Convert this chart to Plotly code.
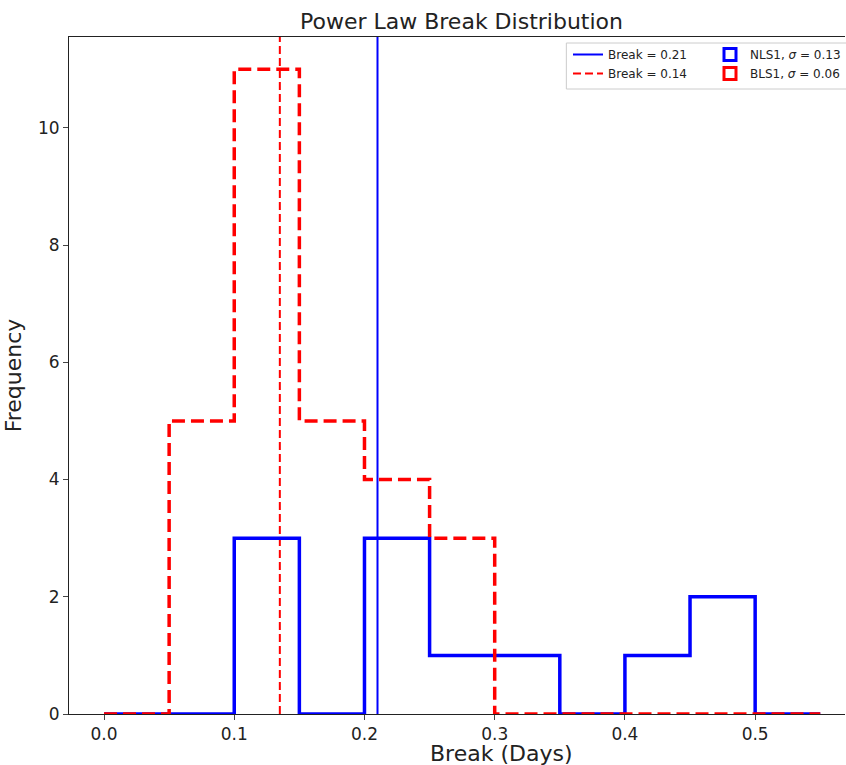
import plotly.graph_objects as go

# ---- data ----
bin_edges = [0.0, 0.05, 0.10, 0.15, 0.20, 0.25, 0.30, 0.35, 0.40, 0.45, 0.50, 0.55]
nls1_counts = [0, 0, 3, 0, 3, 1, 1, 0, 1, 2, 0]
bls1_counts = [0, 5, 11, 5, 4, 3, 0, 0, 0, 0, 0]
nls1_break = 0.21
bls1_break = 0.135
nls1_label = "NLS1, <i>σ</i> = 0.13"
bls1_label = "BLS1, <i>σ</i> = 0.06"
break_labels = ["Break = 0.21", "Break = 0.14"]
x_ticks = [0.0, 0.1, 0.2, 0.3, 0.4, 0.5]
y_ticks = [0, 2, 4, 6, 8, 10]

X_RANGE = [-0.0269, 0.569]
Y_RANGE = [0, 11.55]

BLUE = "#0000ff"
RED = "#ff0000"
FONT = "DejaVu Sans"
TXT = "#222"


def step_xy(edges, counts):
    xs = [edges[0]] + list(edges)
    ys = [0] + list(counts) + [0]
    return xs, ys


fig = go.Figure()

# vertical break lines (legend 1)
fig.add_trace(go.Scatter(x=[nls1_break, nls1_break], y=Y_RANGE, mode="lines",
                         line=dict(color=BLUE, width=2), name=break_labels[0],
                         legend="legend"))
fig.add_trace(go.Scatter(x=[bls1_break, bls1_break], y=Y_RANGE, mode="lines",
                         line=dict(color=RED, width=2, dash="8px,4px"), name=break_labels[1],
                         legend="legend"))

# step histograms
bx, by = step_xy(bin_edges, nls1_counts)
fig.add_trace(go.Scatter(x=bx, y=by, mode="lines", line=dict(color=BLUE, width=3.5, shape="hv"),
                         showlegend=False))
rx, ry = step_xy(bin_edges, bls1_counts)
fig.add_trace(go.Scatter(x=rx, y=ry, mode="lines",
                         line=dict(color=RED, width=3.5, shape="hv", dash="13px,6px"),
                         showlegend=False))

# legend-only patch entries (legend 2)
fig.add_trace(go.Bar(x=[None], y=[None], name=nls1_label, legend="legend2",
                     marker=dict(color="rgba(0,0,0,0)", line=dict(color=BLUE, width=3))))
fig.add_trace(go.Bar(x=[None], y=[None], name=bls1_label, legend="legend2",
                     marker=dict(color="rgba(0,0,0,0)", line=dict(color=RED, width=3))))

axis_common = dict(
    showgrid=False, zeroline=False, showline=True, linecolor=TXT, linewidth=1,
    ticks="outside", ticklen=5, tickcolor="#444", tickwidth=1,
    tickfont=dict(family=FONT, size=17, color=TXT),
)

legend_common = dict(xanchor="left", yanchor="top", bgcolor="rgba(0,0,0,0)", borderwidth=0,
                     font=dict(family=FONT, size=12, color=TXT), traceorder="normal")

fig.update_layout(
    width=846, height=765,
    margin=dict(l=69, r=0, t=37, b=51),
    paper_bgcolor="white", plot_bgcolor="white",
    font=dict(family=FONT, color=TXT),
    title=dict(text="Power Law Break Distribution", x=(462 - 69) / 777, xref="paper",
               xanchor="center", y=1 - 21 / 765, yanchor="middle", yref="container",
               font=dict(family=FONT, size=22, color=TXT)),
    xaxis=dict(range=X_RANGE, tickvals=x_ticks, ticktext=[f"{v:.1f}" for v in x_ticks],
               mirror=True, **axis_common),
    yaxis=dict(range=Y_RANGE, tickvals=y_ticks, mirror=False,
               title=dict(text="Frequency", font=dict(family=FONT, size=22, color=TXT), standoff=10),
               **axis_common),
    annotations=[dict(text="Break (Days)", xref="paper", yref="paper",
                      x=(502 - 69) / 777, y=(714 - 753) / 677, xanchor="center", yanchor="middle",
                      showarrow=False, font=dict(family=FONT, size=22, color=TXT))],
    legend=dict(x=(568 - 69) / 777, y=1 - (40 - 37) / 677, **legend_common),
    legend2=dict(x=(711 - 69) / 777, y=1 - (40 - 37) / 677, **legend_common),
    shapes=[dict(type="rect", xref="paper", yref="paper",
                 x0=(567 - 69) / 777, x1=1.05, y0=1 - (89 - 37) / 677, y1=1 - (43 - 37) / 677,
                 line=dict(color="#cccccc", width=1), fillcolor="rgba(255,255,255,0.8)",
                 layer="above")],
    bargap=0,
)

fig.write_html("out.html")
